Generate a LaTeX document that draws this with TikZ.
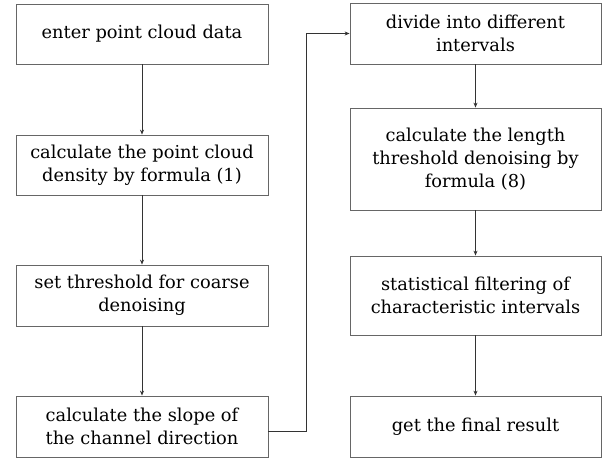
\documentclass[tikz,border=0pt]{standalone}
\usepackage{fontspec}
\setmainfont{DejaVu Serif}
\usetikzlibrary{arrows.meta}
\begin{document}
\begin{tikzpicture}[x=1pt,y=-1pt,
  stepbox/.style={draw=black!60,line width=0.8pt,rectangle,align=center,
    inner sep=2pt,font=\fontsize{17.8}{23}\selectfont},
  flow/.style={draw=black!80,line width=0.8pt,-{Stealth[length=5pt,width=4pt]}}]
\useasboundingbox (0,0) rectangle (603,460);
% left column
\node[stepbox,minimum width=252pt,minimum height=60pt] (l1) at (142,34) {enter point cloud data};
\node[stepbox,minimum width=252pt,minimum height=60pt] (l2) at (142,165) {calculate the point cloud\\density by formula (1)};
\node[stepbox,minimum width=252pt,minimum height=61pt] (l3) at (142,295.5) {set threshold for coarse\\denoising};
\node[stepbox,minimum width=252pt,minimum height=61pt] (l4) at (142,426.5) {calculate the slope of\\the channel direction};
% right column
\node[stepbox,minimum width=251pt,minimum height=61pt] (r1) at (475.5,33.5) {divide into different\\intervals};
\node[stepbox,minimum width=251pt,minimum height=102pt] (r2) at (475.5,159) {calculate the length\\threshold denoising by\\formula (8)};
\node[stepbox,minimum width=251pt,minimum height=79pt] (r3) at (475.5,295.5) {statistical filtering of\\characteristic intervals};
\node[stepbox,minimum width=251pt,minimum height=61pt] (r4) at (475.5,426.5) {get the final result};
% connectors
\draw[flow] (l1) -- (l2);
\draw[flow] (l2) -- (l3);
\draw[flow] (l3) -- (l4);
\coordinate (turn) at (306,431);
\draw[flow] (l4.east |- turn) -- (turn) |- (r1.west);
\draw[flow] (r1) -- (r2);
\draw[flow] (r2) -- (r3);
\draw[flow] (r3) -- (r4);
\end{tikzpicture}
\end{document}
